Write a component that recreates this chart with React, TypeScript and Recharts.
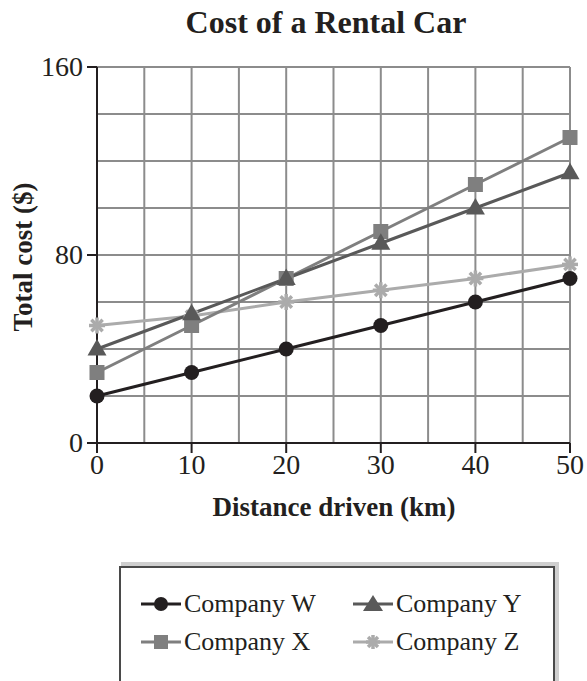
import { LineChart, Line, XAxis, YAxis, CartesianGrid } from 'recharts';

const distances = [0, 10, 20, 30, 40, 50];
const companyW = [20, 30, 40, 50, 60, 70];
const companyX = [30, 50, 70, 90, 110, 130];
const companyY = [40, 55, 70, 85, 100, 115];
const companyZ = [50, 54, 60, 65, 70, 76];

const xTicks = [0, 10, 20, 30, 40, 50];
const yTicks = [0, 80, 160];
const xGrid = [5, 10, 15, 20, 25, 30, 35, 40, 45, 50];
const yGrid = [20, 40, 60, 80, 100, 120, 140, 160];

const data = distances.map((d, i) => ({
  km: d,
  W: companyW[i],
  X: companyX[i],
  Y: companyY[i],
  Z: companyZ[i],
}));

const FONT = '"Liberation Serif", "Times New Roman", serif';
const INK = '#231f20';
const C_W = '#231f20';
const C_X = '#7f7f7f';
const C_Y = '#595959';
const C_Z = '#ababab';

const CircleDot = (props: any) => {
  const { cx, cy } = props;
  if (cx == null || cy == null) return null;
  return <circle cx={cx} cy={cy} r={7.5} fill={C_W} />;
};

const SquareDot = (props: any) => {
  const { cx, cy } = props;
  if (cx == null || cy == null) return null;
  return <rect x={cx - 7.5} y={cy - 7.5} width={15} height={15} fill={C_X} />;
};

const TriangleDot = (props: any) => {
  const { cx, cy } = props;
  if (cx == null || cy == null) return null;
  return <polygon points={`${cx},${cy - 10} ${cx + 9.5},${cy + 6.5} ${cx - 9.5},${cy + 6.5}`} fill={C_Y} />;
};

const StarShape = ({ cx, cy, r = 8, color = C_Z }: any) => {
  const rays = [0, 45, 90, 135];
  return (
    <g>
      {rays.map((a) => {
        const rad = (a * Math.PI) / 180;
        const dx = Math.cos(rad) * r;
        const dy = Math.sin(rad) * r;
        return (
          <line key={a} x1={cx - dx} y1={cy - dy} x2={cx + dx} y2={cy + dy} stroke={color} strokeWidth={3.5} />
        );
      })}
    </g>
  );
};

const StarDot = (props: any) => {
  const { cx, cy } = props;
  if (cx == null || cy == null) return null;
  return <StarShape cx={cx} cy={cy} />;
};

const XTick = (props: any) => {
  const { x, y, payload } = props;
  return (
    <text x={x} y={y} dy={20} textAnchor="middle" fill={INK} style={{ fontFamily: FONT, fontSize: 28 }}>
      {payload.value}
    </text>
  );
};

const YTick = (props: any) => {
  const { x, y, payload } = props;
  return (
    <text x={x} y={y} dy={9} textAnchor="end" fill={INK} style={{ fontFamily: FONT, fontSize: 28 }}>
      {payload.value}
    </text>
  );
};

const LegendIcon = ({ kind, color }: { kind: string; color: string }) => (
  <svg width={40} height={20} style={{ display: 'block' }}>
    <line x1={0} y1={10} x2={40} y2={10} stroke={color} strokeWidth={3} />
    {kind === 'circle' && <circle cx={20} cy={10} r={7} fill={color} />}
    {kind === 'square' && <rect x={13} y={3} width={14} height={14} fill={color} />}
    {kind === 'triangle' && <polygon points="20,1 30,17 10,17" fill={color} />}
    {kind === 'star' && <StarShape cx={20} cy={10} r={7} color={color} />}
  </svg>
);

const legendItems = [
  { label: 'Company W', kind: 'circle', color: C_W, left: 20, top: 22 },
  { label: 'Company Y', kind: 'triangle', color: C_Y, left: 232, top: 22 },
  { label: 'Company X', kind: 'square', color: C_X, left: 20, top: 60 },
  { label: 'Company Z', kind: 'star', color: C_Z, left: 232, top: 60 },
];

export default function App() {
  return (
    <div style={{ position: 'absolute', left: 0, top: 0, width: 587, height: 681, overflow: 'hidden', background: '#fff', fontFamily: FONT, color: INK }}>
      <div style={{ position: 'absolute', left: 0, width: 652, top: 4, textAlign: 'center', fontSize: 32, fontWeight: 'bold', lineHeight: '36px', whiteSpace: 'nowrap' }}>
        Cost of a Rental Car
      </div>
      <div style={{ position: 'absolute', left: 23, top: 257, width: 0, height: 0 }}>
        <div style={{ position: 'absolute', left: -150, top: -14, width: 300, textAlign: 'center', fontSize: 27, fontWeight: 'bold', lineHeight: '28px', transform: 'rotate(-90deg)', whiteSpace: 'nowrap' }}>
          Total cost ($)
        </div>
      </div>
      <div style={{ position: 'absolute', left: 134, top: 492, width: 400, textAlign: 'center', fontSize: 27, fontWeight: 'bold', lineHeight: '30px', whiteSpace: 'nowrap' }}>
        Distance driven (km)
      </div>
      <div style={{ position: 'absolute', left: 0, top: 0 }}>
        <LineChart width={587} height={520} data={data} margin={{ top: 67, right: 17, bottom: 0, left: 0 }}>
          <CartesianGrid stroke="#8c8c8c" strokeWidth={2} horizontalValues={yGrid} verticalValues={xGrid} />
          <XAxis
            dataKey="km"
            type="number"
            domain={[0, 50]}
            ticks={xTicks}
            height={77}
            tick={<XTick />}
            tickSize={10}
            tickMargin={1}
            axisLine={{ stroke: INK, strokeWidth: 2 }}
            tickLine={{ stroke: INK, strokeWidth: 2 }}
          />
          <YAxis
            type="number"
            domain={[0, 160]}
            ticks={yTicks}
            width={97}
            tick={<YTick />}
            tickSize={10}
            tickMargin={4}
            axisLine={{ stroke: INK, strokeWidth: 2 }}
            tickLine={{ stroke: INK, strokeWidth: 2 }}
          />
          <Line dataKey="Z" stroke={C_Z} strokeWidth={3} dot={<StarDot />} activeDot={false} isAnimationActive={false} />
          <Line dataKey="X" stroke={C_X} strokeWidth={3} dot={<SquareDot />} activeDot={false} isAnimationActive={false} />
          <Line dataKey="Y" stroke={C_Y} strokeWidth={3} dot={<TriangleDot />} activeDot={false} isAnimationActive={false} />
          <Line dataKey="W" stroke={C_W} strokeWidth={3} dot={<CircleDot />} activeDot={false} isAnimationActive={false} />
        </LineChart>
      </div>
      <div style={{ position: 'absolute', left: 119, top: 566, width: 432, height: 130, border: '2px solid #4a4a4a', boxShadow: '3px -3px 0 1px #cfcfcf' }}>
        {legendItems.map((it) => (
          <div key={it.label} style={{ position: 'absolute', left: it.left, top: it.top, display: 'flex', alignItems: 'center', fontSize: 26, lineHeight: '28px', whiteSpace: 'nowrap' }}>
            <LegendIcon kind={it.kind} color={it.color} />
            <span style={{ marginLeft: 3 }}>{it.label}</span>
          </div>
        ))}
      </div>
    </div>
  );
}
